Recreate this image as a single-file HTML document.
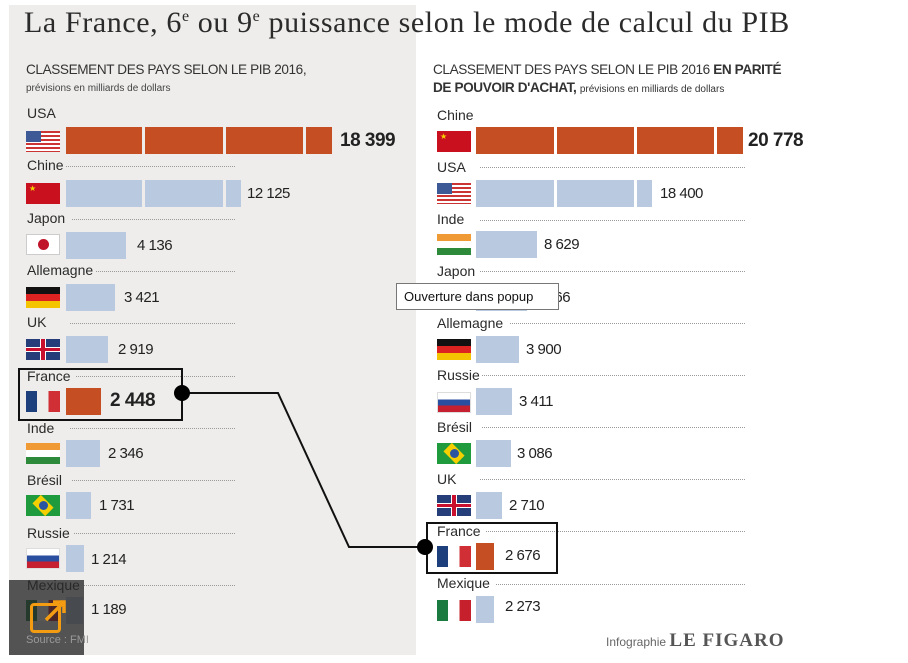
<!DOCTYPE html>
<html><head><meta charset="utf-8">
<style>
*{margin:0;padding:0;box-sizing:border-box}
body{width:908px;height:663px;background:#fff;position:relative;overflow:hidden;font-family:"Liberation Sans",sans-serif;color:#222}
.a{position:absolute}
.lbl{position:absolute;font-size:14px;line-height:16px;color:#2a2a2a;white-space:nowrap}
.dot{position:absolute;height:0;border-top:1px dotted #9a9a9a}
.bar{position:absolute;height:27px;background:#b8c9e0}
.org{background:#c54e22}
.sep{position:absolute;top:0;width:3px;height:27px}
.val{position:absolute;font-size:15px;line-height:18px;color:#222;white-space:nowrap;letter-spacing:-0.5px}
.big{font-size:19px;font-weight:bold;line-height:24px}
.flag{position:absolute;width:34px;height:21px}
</style></head><body>
<div class="a" style="left:9px;top:5px;width:407px;height:650px;background:#eeedeb"></div>
<div class="a" style="left:24px;top:6px;font-family:'Liberation Serif',serif;font-size:30px;letter-spacing:0.6px;color:#2b2b2b;white-space:nowrap">La France, 6<sup style="font-size:16px">e</sup> ou 9<sup style="font-size:16px">e</sup> puissance selon le mode de calcul du PIB</div>
<div class="a" style="left:26px;top:62px;font-size:13.6px;color:#333;letter-spacing:-0.4px">CLASSEMENT DES PAYS SELON LE PIB 2016,</div>
<div class="a" style="left:26px;top:83px;font-size:10px;color:#444">prévisions en milliards de dollars</div>
<div class="a" style="left:433px;top:62px;font-size:13.6px;color:#333;letter-spacing:-0.4px">CLASSEMENT DES PAYS SELON LE PIB 2016 <b>EN PARITÉ</b></div>
<div class="a" style="left:433px;top:80px;font-size:13.6px;color:#333;letter-spacing:-0.4px"><b>DE POUVOIR D'ACHAT,</b> <span style="font-size:10px;letter-spacing:0">prévisions en milliards de dollars</span></div>

<!-- LEFT -->
<div class="lbl" style="left:27px;top:105px">USA</div>
<div class="flag" style="left:26px;top:131px;background:repeating-linear-gradient(#c33 0 2px,#fff 2px 4px)"><div class="a" style="left:0;top:0;width:15px;height:11px;background:#3d5a96"></div></div>
<div class="bar org" style="left:66px;top:127px;width:266px"><div class="sep" style="left:76px;background:#eeedeb"></div><div class="sep" style="left:157px;background:#eeedeb"></div><div class="sep" style="left:237px;background:#eeedeb"></div></div>
<div class="val big" style="left:340px;top:129px">18 399</div>

<div class="lbl" style="left:27px;top:157px">Chine</div><div class="dot" style="left:66px;top:166px;width:169px"></div>
<div class="flag" style="left:26px;top:183px;background:#c8101e"><span class="a" style="left:3px;top:1px;color:#f6d200;font-size:8px">★</span></div>
<div class="bar" style="left:66px;top:180px;width:175px"><div class="sep" style="left:76px;background:#eeedeb"></div><div class="sep" style="left:157px;background:#eeedeb"></div></div>
<div class="val" style="left:247px;top:185px">12 125</div>

<div class="lbl" style="left:27px;top:210px">Japon</div><div class="dot" style="left:72px;top:219px;width:163px"></div>
<div class="flag" style="left:26px;top:234px;background:#fff;border:1px solid #ccc"><div class="a" style="left:11px;top:4px;width:11px;height:11px;border-radius:50%;background:#c0142b"></div></div>
<div class="bar" style="left:66px;top:232px;width:60px"></div>
<div class="val" style="left:137px;top:237px">4 136</div>

<div class="lbl" style="left:27px;top:262px">Allemagne</div><div class="dot" style="left:96px;top:271px;width:139px"></div>
<div class="flag" style="left:26px;top:287px;background:linear-gradient(#111 0 33%,#d22 33% 66%,#f5c400 66%)"></div>
<div class="bar" style="left:66px;top:284px;width:49px"></div>
<div class="val" style="left:124px;top:289px">3 421</div>

<div class="lbl" style="left:27px;top:314px">UK</div><div class="dot" style="left:70px;top:323px;width:165px"></div>
<div class="flag" style="left:26px;top:339px;background:#253e7a"><div class="a" style="left:0;top:8px;width:34px;height:5px;background:#fff"></div><div class="a" style="left:14px;top:0;width:6px;height:21px;background:#fff"></div><div class="a" style="left:0;top:9px;width:34px;height:3px;background:#c8102e"></div><div class="a" style="left:15px;top:0;width:4px;height:21px;background:#c8102e"></div></div>
<div class="bar" style="left:66px;top:336px;width:42px"></div>
<div class="val" style="left:118px;top:341px">2 919</div>

<div class="lbl" style="left:27px;top:368px">France</div><div class="dot" style="left:76px;top:376px;width:159px"></div>
<div class="flag" style="left:26px;top:391px;background:linear-gradient(90deg,#1d3f7c 0 33%,transparent 33% 66%,#d02f35 66%)"></div>
<div class="bar org" style="left:66px;top:388px;width:35px"></div>
<div class="val big" style="left:110px;top:389px">2 448</div>
<div class="a" style="left:18px;top:368px;width:165px;height:53px;border:2px solid #111"></div>

<div class="lbl" style="left:27px;top:420px">Inde</div><div class="dot" style="left:70px;top:428px;width:165px"></div>
<div class="flag" style="left:26px;top:443px;background:linear-gradient(#f09a36 0 33%,#fff 33% 66%,#2d8a3a 66%)"></div>
<div class="bar" style="left:66px;top:440px;width:34px"></div>
<div class="val" style="left:108px;top:445px">2 346</div>

<div class="lbl" style="left:27px;top:472px">Brésil</div><div class="dot" style="left:72px;top:480px;width:163px"></div>
<div class="flag" style="left:26px;top:495px;background:#1f9a3c"><div class="a" style="left:8px;top:2px;width:18px;height:17px;background:#f5d000;transform:rotate(45deg) scale(1,0.7)"></div><div class="a" style="left:13px;top:6px;width:9px;height:9px;border-radius:50%;background:#2a55a0"></div></div>
<div class="bar" style="left:66px;top:492px;width:25px"></div>
<div class="val" style="left:99px;top:497px">1 731</div>

<div class="lbl" style="left:27px;top:525px">Russie</div><div class="dot" style="left:74px;top:533px;width:161px"></div>
<div class="flag" style="left:26px;top:548px;background:linear-gradient(#fff 0 33%,#2a4ea0 33% 66%,#c62030 66%);border:1px solid #ddd"></div>
<div class="bar" style="left:66px;top:545px;width:18px"></div>
<div class="val" style="left:91px;top:551px">1 214</div>

<div class="lbl" style="left:27px;top:577px">Mexique</div><div class="dot" style="left:84px;top:585px;width:151px"></div>
<div class="flag" style="left:26px;top:600px;background:linear-gradient(90deg,#1b7a40 0 33%,#fff 33% 66%,#c7202d 66%)"></div>
<div class="bar" style="left:66px;top:597px;width:17px"></div>
<div class="val" style="left:91px;top:601px">1 189</div>

<!-- RIGHT -->
<div class="lbl" style="left:437px;top:107px">Chine</div>
<div class="flag" style="left:437px;top:131px;background:#c8101e"><span class="a" style="left:3px;top:1px;color:#f6d200;font-size:8px">★</span></div>
<div class="bar org" style="left:476px;top:127px;width:267px"><div class="sep" style="left:78px;background:#fff"></div><div class="sep" style="left:158px;background:#fff"></div><div class="sep" style="left:238px;background:#fff"></div></div>
<div class="val big" style="left:748px;top:129px">20 778</div>

<div class="lbl" style="left:437px;top:159px">USA</div><div class="dot" style="left:480px;top:167px;width:265px"></div>
<div class="flag" style="left:437px;top:183px;background:repeating-linear-gradient(#c33 0 2px,#fff 2px 4px)"><div class="a" style="left:0;top:0;width:15px;height:11px;background:#3d5a96"></div></div>
<div class="bar" style="left:476px;top:180px;width:176px"><div class="sep" style="left:78px;background:#fff"></div><div class="sep" style="left:158px;background:#fff"></div></div>
<div class="val" style="left:660px;top:185px">18 400</div>

<div class="lbl" style="left:437px;top:211px">Inde</div><div class="dot" style="left:480px;top:220px;width:265px"></div>
<div class="flag" style="left:437px;top:234px;background:linear-gradient(#f09a36 0 33%,#fff 33% 66%,#2d8a3a 66%)"></div>
<div class="bar" style="left:476px;top:231px;width:61px"></div>
<div class="val" style="left:544px;top:236px">8 629</div>

<div class="lbl" style="left:437px;top:263px">Japon</div><div class="dot" style="left:480px;top:271px;width:265px"></div>
<div class="bar" style="left:476px;top:284px;width:51px"></div>
<div class="val" style="left:535px;top:289px">5 266</div>

<div class="lbl" style="left:437px;top:315px">Allemagne</div><div class="dot" style="left:510px;top:323px;width:235px"></div>
<div class="flag" style="left:437px;top:339px;background:linear-gradient(#111 0 33%,#d22 33% 66%,#f5c400 66%)"></div>
<div class="bar" style="left:476px;top:336px;width:43px"></div>
<div class="val" style="left:526px;top:341px">3 900</div>

<div class="lbl" style="left:437px;top:367px">Russie</div><div class="dot" style="left:482px;top:375px;width:263px"></div>
<div class="flag" style="left:437px;top:392px;background:linear-gradient(#fff 0 33%,#2a4ea0 33% 66%,#c62030 66%);border:1px solid #ddd"></div>
<div class="bar" style="left:476px;top:388px;width:36px"></div>
<div class="val" style="left:519px;top:393px">3 411</div>

<div class="lbl" style="left:437px;top:419px">Brésil</div><div class="dot" style="left:482px;top:427px;width:263px"></div>
<div class="flag" style="left:437px;top:443px;background:#1f9a3c"><div class="a" style="left:8px;top:2px;width:18px;height:17px;background:#f5d000;transform:rotate(45deg) scale(1,0.7)"></div><div class="a" style="left:13px;top:6px;width:9px;height:9px;border-radius:50%;background:#2a55a0"></div></div>
<div class="bar" style="left:476px;top:440px;width:35px"></div>
<div class="val" style="left:517px;top:445px">3 086</div>

<div class="lbl" style="left:437px;top:471px">UK</div><div class="dot" style="left:480px;top:479px;width:265px"></div>
<div class="flag" style="left:437px;top:495px;background:#253e7a"><div class="a" style="left:0;top:8px;width:34px;height:5px;background:#fff"></div><div class="a" style="left:14px;top:0;width:6px;height:21px;background:#fff"></div><div class="a" style="left:0;top:9px;width:34px;height:3px;background:#c8102e"></div><div class="a" style="left:15px;top:0;width:4px;height:21px;background:#c8102e"></div></div>
<div class="bar" style="left:476px;top:492px;width:26px"></div>
<div class="val" style="left:509px;top:497px">2 710</div>

<div class="lbl" style="left:437px;top:523px">France</div><div class="dot" style="left:486px;top:531px;width:259px"></div>
<div class="flag" style="left:437px;top:546px;background:linear-gradient(90deg,#1d3f7c 0 33%,transparent 33% 66%,#d02f35 66%)"></div>
<div class="bar org" style="left:476px;top:543px;width:18px"></div>
<div class="val" style="left:505px;top:547px">2 676</div>
<div class="a" style="left:426px;top:522px;width:132px;height:52px;border:2px solid #111"></div>

<div class="lbl" style="left:437px;top:575px">Mexique</div><div class="dot" style="left:496px;top:584px;width:249px"></div>
<div class="flag" style="left:437px;top:600px;background:linear-gradient(90deg,#1b7a40 0 33%,#fff 33% 66%,#c7202d 66%)"></div>
<div class="bar" style="left:476px;top:596px;width:18px"></div>
<div class="val" style="left:505px;top:598px">2 273</div>

<div class="a" style="left:606px;top:630px;font-size:12px;color:#666;white-space:nowrap">Infographie <b style="font-family:'Liberation Serif',serif;font-size:19px;color:#555;letter-spacing:1px">LE FIGARO</b></div>

<!-- connector -->
<svg class="a" style="left:0;top:0" width="908" height="663">
<polyline points="182,393 278,393 349,547 425,547" fill="none" stroke="#111" stroke-width="2"/>
<circle cx="182" cy="393" r="8" fill="#000"/>
<circle cx="425" cy="547" r="8" fill="#000"/>
</svg>

<!-- popup -->
<div class="a" style="left:396px;top:283px;width:163px;height:27px;background:#fff;border:1px solid #777;font-size:13px;line-height:25px;padding-left:7px;color:#111">Ouverture dans popup</div>

<!-- overlay -->
<div class="a" style="left:9px;top:580px;width:75px;height:75px;background:rgba(40,40,40,0.78)"></div>
<div class="a" style="left:30px;top:603px;width:31px;height:30px;border:3px solid #f39c12;border-radius:4px"></div>
<svg class="a" style="left:40px;top:598px" width="30" height="30"><path d="M6 22 L24 4 M13 4 H24 V15" stroke="#f39c12" stroke-width="3.5" fill="none"/></svg>
<div class="a" style="left:26px;top:634px;font-size:11px;color:#999">Source : FMI</div>
</body></html>
